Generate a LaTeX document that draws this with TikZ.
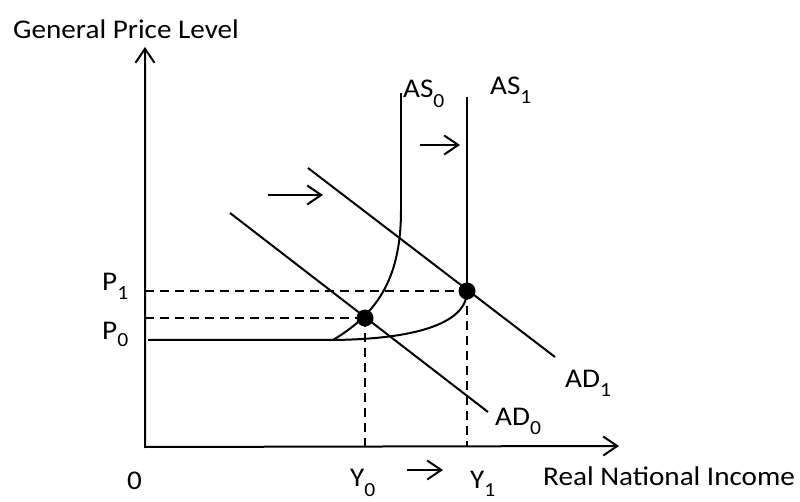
\documentclass[tikz,border=0pt]{standalone}
\usepackage{fontspec}
\setmainfont{Carlito}[FakeStretch=1.08]
\usetikzlibrary{arrows.meta}
\newcommand{\lowsub}[2][9pt]{\raisebox{-#1}{\fontsize{20}{20}\selectfont#2}}

\begin{document}
\begin{tikzpicture}[x=1pt, y=-1pt,
  font=\fontsize{27}{32}\selectfont,
  lbl/.style={inner sep=0pt, anchor=base west},
  curve/.style={line width=2pt},
  asline/.style={line width=2.8pt},
  guide/.style={line width=2pt, dash pattern=on 9pt off 6pt},
  arr/.style={-{Straight Barb[length=14pt,width=19pt]}, line width=2pt},
  axis/.style={{Straight Barb[length=14pt,width=19pt]}-{Straight Barb[length=14pt,width=19pt]}, line width=2pt},
  dot/.style={circle, fill, inner sep=0pt, minimum size=17pt}
]
\useasboundingbox (0,0) rectangle (800,502);
% axes
\coordinate (o) at (145,447);
\coordinate (ytop) at (145,47);
\coordinate (xend) at (619,446);
\draw[axis] (ytop) -- (o) -- (xend);
\node[lbl] (ylab) at (13,39) {General Price Level};
\node[lbl] (xlab) at (543,485) {Real National Income};
\node[lbl] (zero) at (127,489) {0};

% equilibria
\node[dot] (e0) at (365,318) {};
\node[dot] (e1) at (467,291) {};

% aggregate supply
\coordinate (flat) at (148,340);
\coordinate (kink) at (333,340);
\coordinate (as0bend) at (401,210);
\coordinate (as0top) at (401,93);
\coordinate (as1top) at (467,97);
\draw[curve] (flat) -- (kink)
  .. controls (380,312) and (401,275) .. (as0bend);
\draw[asline] (as0bend) -- (as0top);
\draw[curve] (kink) .. controls (420,339) and (467,322) .. (e1.center);
\draw[asline] (e1.center) -- (as1top);
\node[lbl] (as0) at (403,98) {AS\lowsub[10pt]{0}};
\node[lbl] (as1) at (490,95) {AS\lowsub{1}};

% aggregate demand
\coordinate (ad0a) at (230,213);
\coordinate (ad0b) at (488,412);
\coordinate (ad1a) at (308,168);
\coordinate (ad1b) at (555,357);
\draw[curve] (ad0a) -- (ad0b);
\draw[curve] (ad1a) -- (ad1b);
\node[lbl] (ad0) at (495,425) {AD\lowsub{0}};
\node[lbl] (ad1) at (565,387) {AD\lowsub{1}};

% guide lines to the axes
\draw[guide] (o |- e1) -- (e1.center);
\draw[guide] (o |- e0) -- (e0.center);
\draw[guide] (e0.center) -- (e0 |- o);
\draw[guide] (e1.center) -- (e1 |- o);
\node[lbl] (p1) at (102,291) {P\lowsub{1}};
\node[lbl] (p0) at (102,340) {P\lowsub[7pt]{0}};
\node[lbl] (y0) at (350,486) {Y\lowsub[10pt]{0}};
\node[lbl] (y1) at (470,488) {Y\lowsub[8pt]{1}};

% shifts
\coordinate (adsa) at (268,195);
\coordinate (adsb) at (323,195);
\coordinate (assa) at (420,145);
\coordinate (assb) at (460,145);
\coordinate (ysa) at (407,470);
\coordinate (ysb) at (443,470);
\draw[arr] (adsa) -- (adsb);
\draw[arr] (assa) -- (assb);
\draw[arr] (ysa) -- (ysb);
\end{tikzpicture}
\end{document}
